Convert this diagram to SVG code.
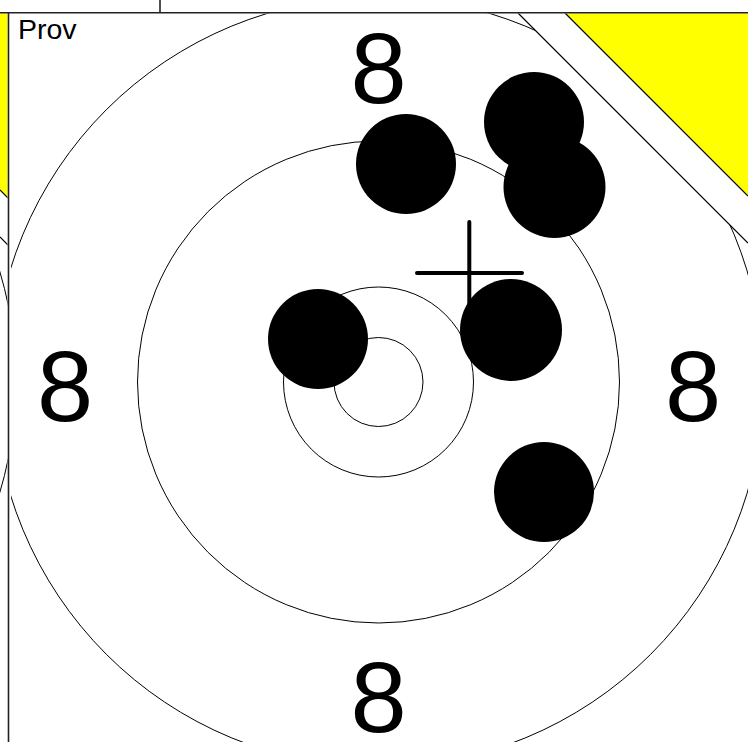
<svg xmlns="http://www.w3.org/2000/svg" width="748" height="742" viewBox="0 0 748 742">
  <style>
    .ring { fill: none; stroke: #000; stroke-width: 1; }
    .edge { fill: none; stroke: #000; stroke-width: 1.2; }
    .yellow { fill: #ffff00; stroke: none; }
    .num { font-family: "Liberation Sans", Arial, sans-serif; font-size: 101px; fill: #000; text-anchor: middle; }
    .lbl { font-family: "Liberation Sans", Arial, sans-serif; font-size: 28.5px; fill: #000; }
    .shot { fill: #000; }
    .cross { stroke: #000; stroke-width: 4; stroke-linecap: round; }
    .border { stroke: #222; stroke-width: 1.6; }
  </style>
  <defs>
    <clipPath id="panelClip"><rect x="11" y="13.5" width="737" height="729"/></clipPath>
    <clipPath id="stripClip"><rect x="0" y="13.5" width="7.5" height="729"/></clipPath>
    <clipPath id="octClip"><polygon points="0,0 505,0 1005,500 1005,1000 0,1000"/></clipPath>
  </defs>
  <rect x="0" y="0" width="748" height="742" fill="#fff"/>

  <!-- previous panel strip (left edge) -->
  <g id="prev-strip" clip-path="url(#stripClip)">
    <polygon class="yellow" points="0,13 8,13 8,198 0,190"/>
    <line class="edge" x1="0" y1="190" x2="8" y2="198"/>
    <line class="edge" x1="0" y1="237" x2="8" y2="245"/>
    <circle class="ring" cx="-369" cy="382" r="385"/>
  </g>

  <!-- main target panel -->
  <g id="panel" clip-path="url(#panelClip)">
    <g id="corner">
      <polygon class="yellow" points="565,13 748,13 748,196"/>
      <line class="edge" x1="565" y1="13" x2="748" y2="196"/>
      <line class="edge" x1="518" y1="13" x2="748" y2="243"/>
    </g>
    <g id="rings">
      <circle class="ring" cx="378.5" cy="382" r="385" clip-path="url(#octClip)"/>
      <circle class="ring" cx="378.5" cy="382" r="241"/>
      <circle class="ring" cx="378.5" cy="382" r="95"/>
      <circle class="ring" cx="378.5" cy="382" r="44.5"/>
    </g>
    <g id="labels">
      <text class="num" x="378.5" y="103">8</text>
      <text class="num" x="378.5" y="732">8</text>
      <text class="num" x="65" y="421">8</text>
      <text class="num" x="693" y="421">8</text>
      <text class="lbl" x="18" y="39">Prov</text>
    </g>
    <g id="crosshair">
      <line class="cross" x1="469.3" y1="222" x2="469.3" y2="325"/>
      <line class="cross" x1="417" y1="273" x2="522" y2="273"/>
    </g>
    <g id="shots">
      <circle id="shot1" class="shot" cx="406" cy="164" r="50"/>
      <circle id="shot2" class="shot" cx="534" cy="122" r="50"/>
      <circle id="shot3" class="shot" cx="554.5" cy="187" r="51"/>
      <circle id="shot4" class="shot" cx="318" cy="339" r="50"/>
      <circle id="shot5" class="shot" cx="511" cy="330" r="51"/>
      <circle id="shot6" class="shot" cx="544" cy="492" r="50"/>
    </g>
  </g>

  <!-- frame lines -->
  <g id="frame">
    <line class="border" x1="0" y1="12.8" x2="748" y2="12.8"/>
    <line class="border" x1="160" y1="0" x2="160" y2="12.8"/>
    <line class="border" x1="8.5" y1="12.8" x2="8.5" y2="742"/>
  </g>
</svg>
